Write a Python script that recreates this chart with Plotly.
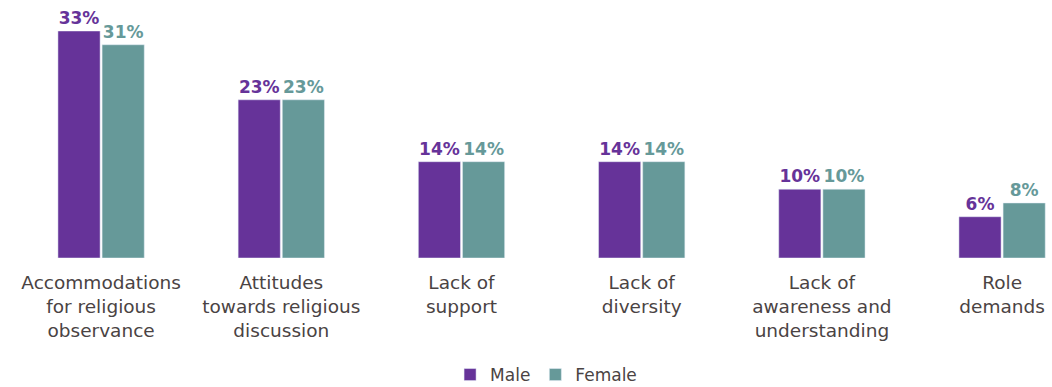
import plotly.graph_objects as go

categories = [
    "Accommodations<br>for religious<br>observance",
    "Attitudes<br>towards religious<br>discussion",
    "Lack of<br>support",
    "Lack of<br>diversity",
    "Lack of<br>awareness and<br>understanding",
    "Role<br>demands",
]
male = [33, 23, 14, 14, 10, 6]
female = [31, 23, 14, 14, 10, 8]

PURPLE = "#663399"
TEAL = "#669999"
FONT = "DejaVu Sans"
TXT = "#4a4343"

fig = go.Figure()
fig.add_trace(go.Bar(
    name="Male", x=categories, y=male, marker_color=PURPLE,
    text=[f"{v}%" for v in male], textposition="outside",
    textfont=dict(family=FONT, size=17, color=PURPLE, weight="bold"),
    cliponaxis=False,
))
fig.add_trace(go.Bar(
    name="Female", x=categories, y=female, marker_color=TEAL,
    text=[f"{v}%" for v in female], textposition="outside",
    textfont=dict(family=FONT, size=17, color=TEAL, weight="bold"),
    cliponaxis=False,
))

fig.update_layout(
    width=1052, height=387,
    margin=dict(l=11, r=0, t=31, b=129, autoexpand=False),
    paper_bgcolor="white", plot_bgcolor="white",
    barmode="group", bargap=0.51, bargroupgap=0.045,
    font=dict(family=FONT, size=17, color=TXT),
    showlegend=True,
    legend=dict(orientation="h", x=0.514, xanchor="center",
                yref="container", y=12 / 387, yanchor="middle",
                font=dict(size=17, color=TXT), traceorder="normal"),
)
fig.update_xaxes(range=[-0.5, 5.277], showgrid=False, showline=False, ticks="",
                 tickfont=dict(size=18.5, color=TXT), zeroline=False,
                 automargin=False, ticklabelstandoff=11)
fig.update_yaxes(range=[0, 33], visible=False, showgrid=False, zeroline=False)

fig.write_html("out.html")
